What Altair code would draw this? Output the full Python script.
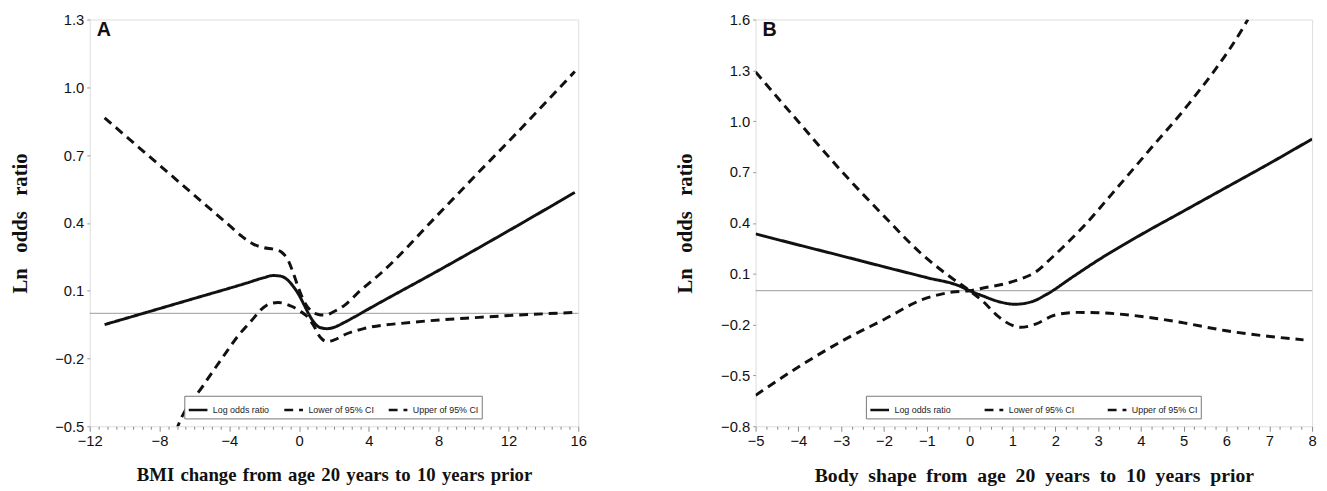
import altair as alt
import pandas as pd

# ---------------- Panel A: BMI change ----------------
a_est_x = [-11.15, -6, -3, -2, -1.5, -1.1, -0.7, -0.3, 0, 0.3, 0.6, 0.9, 1.2, 1.6, 2.0, 2.6, 3.2, 4, 8, 12, 15.8]
a_est_y = [-0.05, 0.066, 0.134, 0.158, 0.167, 0.165, 0.15, 0.115, 0.08, 0.035, -0.01, -0.045, -0.063, -0.068, -0.062, -0.04, -0.015, 0.02, 0.19, 0.365, 0.535]

a_up_x = [-11.15, -8, -6, -4, -3.3, -2.6, -2.0, -1.4, -1.0, -0.6, -0.3, 0, 0.3, 0.7, 1.1, 1.5, 2.0, 2.6, 3.5, 4.65, 8, 10.3, 12, 15.8]
a_up_y = [0.865, 0.655, 0.522, 0.389, 0.342, 0.305, 0.29, 0.282, 0.27, 0.23, 0.17, 0.105, 0.05, 0.01, -0.005, -0.008, 0.008, 0.035, 0.1, 0.175, 0.44, 0.625, 0.76, 1.07]

a_lo_x = [-7.05, -6.9, -5.5, -4.4, -3.5, -2.7, -2.2, -1.7, -1.2, -0.8, -0.4, 0, 0.4, 0.8, 1.2, 1.6, 2.0, 2.6, 3.7, 6.5, 10.3, 15.8]
a_lo_y = [-0.52, -0.49, -0.32, -0.197, -0.1, -0.03, 0.015, 0.042, 0.048, 0.042, 0.03, 0.012, -0.01, -0.05, -0.105, -0.125, -0.118, -0.095, -0.068, -0.04, -0.018, 0.004]

a_x_ticks = [-12 + 0.5 * k for k in range(57)]
a_y_ticks = [-0.5, -0.2, 0.1, 0.4, 0.7, 1.0, 1.3]

# ---------------- Panel B: Body shape ----------------
b_est_x = [-5, -4, -3, -2, -1, -0.23, 0, 0.3, 0.66, 1.06, 1.45, 1.81, 2.4, 3, 4, 5, 6, 7, 8]
b_est_y = [0.335, 0.27, 0.206, 0.141, 0.077, 0.027, 0.0, -0.03, -0.063, -0.08, -0.065, -0.02, 0.08, 0.18, 0.33, 0.47, 0.61, 0.75, 0.895]

b_lo_x = [-5, -4, -3, -2, -1.11, -0.5, 0, 0.3, 0.66, 1.0, 1.19, 1.54, 1.98, 2.5, 3.0, 4.2, 5.0, 5.96, 7.8]
b_lo_y = [1.29, 0.997, 0.707, 0.44, 0.214, 0.09, 0.0, -0.06, -0.15, -0.205, -0.216, -0.197, -0.145, -0.128, -0.13, -0.158, -0.19, -0.235, -0.29]

b_up_x = [-5, -4, -2.88, -2, -1.11, -0.4, 0, 0.4, 0.84, 1.2, 1.54, 1.9, 2.16, 2.7, 3.31, 4.2, 5.08, 6.36, 6.5]
b_up_y = [-0.617, -0.45, -0.283, -0.17, -0.053, -0.008, 0.0, 0.02, 0.042, 0.07, 0.11, 0.19, 0.252, 0.39, 0.567, 0.83, 1.09, 1.54, 1.6]

b_x_ticks = [-5 + 0.25 * k for k in range(53)]
b_y_ticks = [-0.8, -0.5, -0.2, 0.1, 0.4, 0.7, 1.0, 1.3, 1.6]

series_names = ["Log odds ratio", "Lower of 95% CI", "Upper of 95% CI"]

a_x_title = "\u2004".join(["BMI", "change", "from", "age", "20", "years", "to", "10", "years", "prior"])
b_x_title = "\u00a0\u00a0".join(["Body", "shape", "from", "age", "20", "years", "to", "10", "years", "prior"])
y_title = "\u00a0\u00a0\u00a0".join(["Ln", "odds", "ratio"])


def long_frame(parts):
    rows = []
    for name, xs, ys in parts:
        for i, (x, y) in enumerate(zip(xs, ys)):
            rows.append({"series": name, "x": x, "y": y, "order": i})
    return pd.DataFrame(rows)


df_a = long_frame([(series_names[0], a_est_x, a_est_y),
                   (series_names[1], a_lo_x, a_lo_y),
                   (series_names[2], a_up_x, a_up_y)])
df_b = long_frame([(series_names[0], b_est_x, b_est_y),
                   (series_names[1], b_lo_x, b_lo_y),
                   (series_names[2], b_up_x, b_up_y)])

LABEL_FONT = "Liberation Sans"
TITLE_FONT = "Liberation Serif"


def panel(df, xdom, ydom, xvals, yvals, major, xtitle, xtitle_size, letter, w, h, legx, legy, colpad):
    xaxis = alt.Axis(
        values=xvals,
        format=".0f",
        labelExpr=f"datum.value % {major} === 0 ? datum.label : ''",
        labelOverlap=False,
        labelFlush=False,
        tickSize={"condition": {"test": f"datum.value % {major} === 0", "value": 5}, "value": 3},
        tickColor="#888",
        domain=False,
        grid=False,
        labelFont=LABEL_FONT,
        labelFontSize=15,
        labelColor="#111",
        labelPadding=2,
        title=xtitle,
        titleFont=TITLE_FONT,
        titleFontSize=xtitle_size,
        titleFontWeight="bold",
        titleColor="#111",
        titlePadding=18,
    )
    yaxis = alt.Axis(
        values=yvals,
        format=".1f",
        labelOverlap=False,
        labelFlush=False,
        tickSize=3,
        tickColor="#999",
        domain=False,
        grid=False,
        labelFont=LABEL_FONT,
        labelFontSize=15,
        labelColor="#111",
        labelPadding=3,
        title=y_title,
        titleFont=TITLE_FONT,
        titleFontSize=21,
        titleFontWeight="bold",
        titleColor="#111",
        titlePadding=25,
    )
    base = alt.Chart(df)
    lines = base.mark_line(clip=True, color="#111", strokeWidth=3, interpolate="monotone").encode(
        x=alt.X("x:Q", scale=alt.Scale(domain=xdom, nice=False, zero=False), axis=xaxis),
        y=alt.Y("y:Q", scale=alt.Scale(domain=ydom, nice=False, zero=False), axis=yaxis),
        detail="series:N",
        order="order:Q",
        strokeDash=alt.StrokeDash(
            "series:N",
            scale=alt.Scale(domain=series_names, range=[[1, 0], [9, 6], [9, 6]]),
            legend=alt.Legend(
                title=None,
                orient="none",
                legendX=legx,
                legendY=legy,
                direction="horizontal",
                symbolType="stroke",
                symbolSize=360,
                symbolStrokeWidth=2.6,
                symbolStrokeColor="#111",
                labelFont=LABEL_FONT,
                labelFontSize=9,
                labelColor="#222",
                columnPadding=colpad,
                padding=3,
                strokeColor="#777",
                fillColor="white",
            ),
        ),
    )
    zero = alt.Chart(pd.DataFrame({"y": [0.0]})).mark_rule(color="#999", strokeWidth=1).encode(y="y:Q")
    lab = alt.Chart(pd.DataFrame({"t": [letter]})).mark_text(
        align="left", baseline="alphabetic", font=LABEL_FONT, fontSize=20, fontWeight="bold", color="#111"
    ).encode(text="t:N", x=alt.value(7), y=alt.value(17))
    return alt.layer(zero, lines, lab).properties(width=w, height=h)


pa = panel(df_a, [-12, 16], [-0.5, 1.3], a_x_ticks, a_y_ticks, 4,
           a_x_title, 19, "A", 496, 413, 96, 382, 9)
pb = panel(df_b, [-5, 8], [-0.8, 1.6], b_x_ticks, b_y_ticks, 1,
           b_x_title, 20, "B", 565, 413, 112, 382, 28)

chart = alt.hconcat(pa, pb, spacing=88).resolve_scale(
    strokeDash="independent", x="independent", y="independent"
).resolve_legend(strokeDash="independent").properties(
    padding={"left": 0, "top": 0, "right": 2, "bottom": 0}
).configure_view(stroke="#999", strokeWidth=1).configure(background="white")

chart.save("out.html", embed_options={"renderer": "svg", "actions": False})
